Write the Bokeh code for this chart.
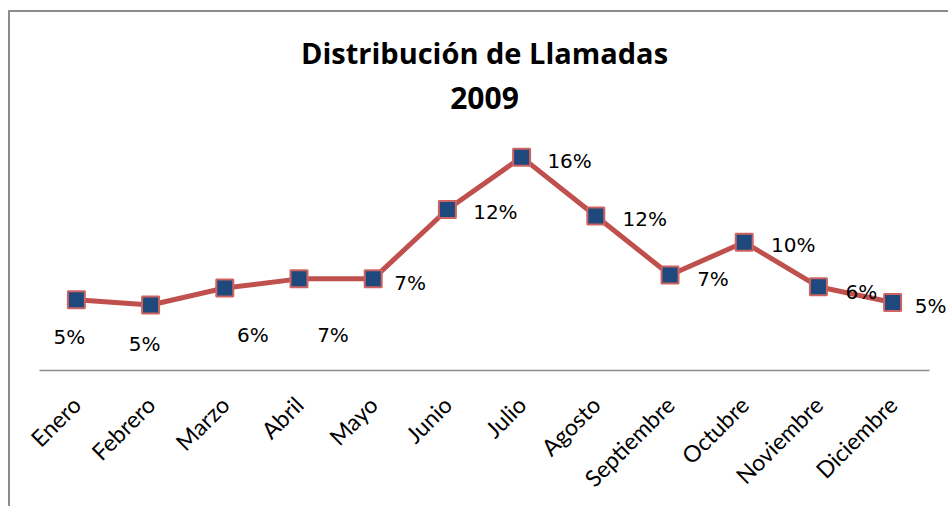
from math import pi
from bokeh.plotting import figure
from bokeh.models import ColumnDataSource, FactorRange, Range1d, LabelSet, Title
from bokeh.core.properties import value
from bokeh.embed import file_html
from bokeh.resources import INLINE

# ---- data ----
meses = ["Enero", "Febrero", "Marzo", "Abril", "Mayo", "Junio", "Julio",
         "Agosto", "Septiembre", "Octubre", "Noviembre", "Diciembre"]
llamadas_pct = [5.4, 5.0, 6.3, 7.0, 7.0, 12.3, 16.3, 11.8, 7.3, 9.8, 6.4, 5.2]
titulo = "Distribución de Llamadas"
subtitulo = "2009"
etiquetas = [f"{round(v)}%" for v in llamadas_pct]

# ---- label placement style (screen px: right, down) ----
label_dx = [-7, -6, 28, 34, 37, 48, 48, 49, 43, 49, 43, 38]
label_dy = [37, 39, 47, 56, 4, 3, 4, 3, 4, 3, 5, 4]

source = ColumnDataSource(dict(
    mes=meses, pct=llamadas_pct, etiqueta=etiquetas,
    dx=label_dx, dy=[-d for d in label_dy],
))

RED = "#C0504D"
BLUE = "#1F497D"
GRAY = "#8c8c8c"

x_range = FactorRange(*meses, range_padding=0.28, range_padding_units="absolute")

p = figure(
    x_range=x_range, y_range=Range1d(0, 19.71),
    width=940, height=496, output_backend="svg", toolbar_location=None,
    y_axis_location=None, title=None,
    min_border_left=8, min_border_right=0, min_border_top=100, min_border_bottom=138,
)
p.margin = (10, 0, 0, 8)
p.styles = {"border-left": f"2px solid {GRAY}", "border-top": f"2px solid {GRAY}"}
p.outline_line_color = None
p.grid.visible = False
p.background_fill_color = "white"
p.border_fill_color = "white"

p.add_layout(Title(text=subtitulo, align="center", text_font="Open Sans", text_font_size="30px",
                   text_font_style="bold", text_color="black", standoff=8), "above")
p.add_layout(Title(text=titulo, align="center", text_font="Open Sans", text_font_size="29px",
                   text_font_style="bold", text_color="black", standoff=18), "above")

ax = p.xaxis[0]
ax.bounds = (0, len(meses))
ax.major_label_orientation = pi / 4
ax.major_tick_line_color = None
ax.major_tick_out = 0
ax.major_tick_in = 0
ax.major_label_standoff = 30
ax.axis_line_color = GRAY
ax.axis_line_width = 1.5
ax.major_label_text_font = "Lato"
ax.major_label_text_font_size = "23px"
ax.major_label_text_color = "black"

p.line(x="mes", y="pct", source=source, line_color=RED, line_width=5)
p.scatter(x="mes", y="pct", source=source, marker="square", size=17,
          fill_color=BLUE, line_color="#CD6461", line_width=2)

labels = LabelSet(x="mes", y="pct", text="etiqueta", x_offset="dx", y_offset="dy",
                  source=source, text_font=value("DejaVu Sans"), text_font_size="20px",
                  text_align="center", text_baseline="middle", text_color="black")
p.add_layout(labels)

open("out.html", "w").write(file_html(p, INLINE))
